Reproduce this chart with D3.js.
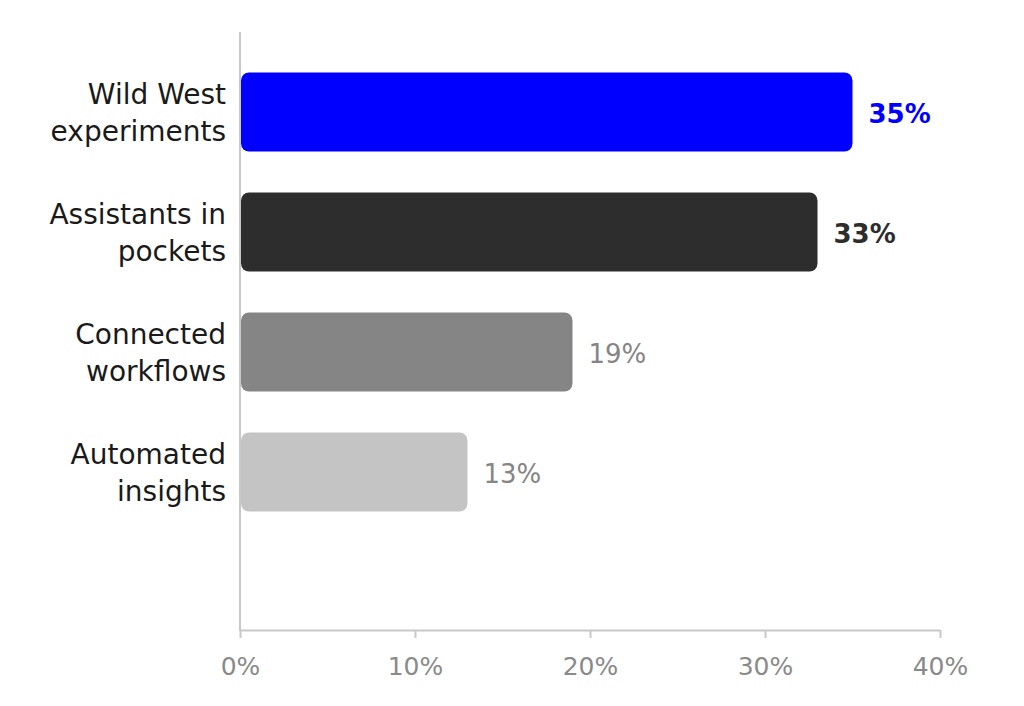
<!DOCTYPE html>
<html lang="en">
	<head>
		<meta charset="utf-8">
		<title>Horizontal bars</title>
		<script type="text/javascript" src="https://cdn.jsdelivr.net/npm/d3@7"></script>
		<style type="text/css">
			body { margin: 0; background: white; }
			text { font-family: "DejaVu Sans", sans-serif; }
		</style>
	</head>
	<body>
	<script type="text/javascript">

			// data
			var categories = [["Wild West", "experiments"], ["Assistants in", "pockets"], ["Connected", "workflows"], ["Automated", "insights"]];
			var values = [35, 33, 19, 13];
			var tickValues = [0, 10, 20, 30, 40];

			var barColors = ["#0000ff", "#2d2d2d", "#858585", "#c4c4c4"];
			var labelColors = ["#0000ff", "#2d2d2d", "#858585", "#858585"];

			var w = 1024;
			var h = 706;
			var svg = d3.select("body").append("svg").attr("width", w).attr("height", h);

			var x = d3.scaleLinear().domain([0, 40]).range([240, 940]);
			var y = d3.scaleBand()
				.domain(d3.range(categories.length))
				.range([52, 532])
				.paddingInner(0.34)
				.paddingOuter(0.17);

			// y axis line
			svg.append("line")
				.attr("x1", 240).attr("x2", 240)
				.attr("y1", 32).attr("y2", 631)
				.attr("stroke", "#c8c8c8").attr("stroke-width", 2);

			// x axis
			var xAxis = svg.append("g")
				.attr("transform", "translate(0,630)")
				.call(d3.axisBottom(x).tickValues(tickValues).tickSize(8).tickSizeOuter(0).tickFormat(function(d){ return d + "%"; }));
			xAxis.select(".domain").attr("stroke", "#c8c8c8").attr("stroke-width", 2);
			xAxis.selectAll(".tick line").attr("stroke", "#c8c8c8").attr("stroke-width", 2);
			xAxis.selectAll(".tick text")
				.attr("y", 27)
				.attr("fill", "#8a8a8a")
				.style("font-size", "25px");

			// bars
			svg.selectAll("rect.bar")
				.data(values)
				.enter()
				.append("rect")
				.attr("class", "bar")
				.attr("x", x(0) + 1)
				.attr("y", function(d, i){ return y(i); })
				.attr("width", function(d){ return x(d) - x(0) - 1; })
				.attr("height", y.bandwidth())
				.attr("rx", 8)
				.attr("fill", function(d, i){ return barColors[i]; });

			// value labels
			svg.selectAll("text.val")
				.data(values)
				.enter()
				.append("text")
				.attr("class", "val")
				.attr("x", function(d){ return x(d) + 16; })
				.attr("y", function(d, i){ return y(i) + y.bandwidth() / 2 + 2; })
				.attr("dy", "0.36em")
				.attr("fill", function(d, i){ return labelColors[i]; })
				.style("font-size", "26px")
				.style("font-weight", function(d, i){ return i < 2 ? "bold" : "normal"; })
				.text(function(d){ return d + "%"; });

			// category labels, two lines each
			categories.forEach(function(lines, i){
				var cy = y(i) + y.bandwidth() / 2;
				var t = svg.append("text")
					.attr("text-anchor", "end")
					.attr("fill", "#1a1a1a")
					.style("font-size", "28px");
				lines.forEach(function(line, j){
					t.append("tspan")
						.attr("x", 226)
						.attr("y", cy + (j - 0.5) * 37)
						.attr("dy", "0.36em")
						.text(line);
				});
			});

		</script>
	</body>
</html>
